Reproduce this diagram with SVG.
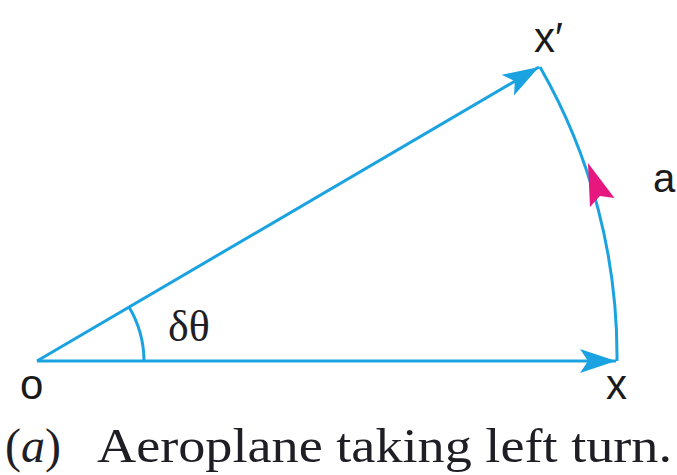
<svg xmlns="http://www.w3.org/2000/svg" width="677" height="475" viewBox="0 0 677 475">
<style>
.ln{fill:none;stroke:#1aa3e0;stroke-width:3}
.lbl{font-family:"Liberation Sans","DejaVu Sans",sans-serif;fill:#1a1a1a}
.ser{font-family:"Liberation Serif","DejaVu Serif",serif;fill:#1e1e24}
</style>
<defs>
<marker id="ah" markerUnits="userSpaceOnUse" markerWidth="40" markerHeight="30" refX="36" refY="12" orient="auto">
<path d="M0,0 L36,12 L0,24 L8,12 Z" fill="#1aa3e0"/>
</marker>
</defs>
<g id="connectors">
<line class="ln" x1="37" y1="361" x2="539" y2="67" marker-end="url(#ah)"/>
<line class="ln" x1="37" y1="361" x2="616" y2="361" marker-end="url(#ah)"/>
<path class="ln" d="M617,361 A581,581 0 0 0 540,67"/>
<path class="ln" d="M144,361 A107,107 0 0 0 129,307"/>
<path d="M0,0 L-42,-13 L-35,0 L-42,13 Z" fill="#e6177f" transform="translate(588,163) rotate(-109.8)"/>
</g>
<g id="node-o"><text class="lbl" x="20" y="399" font-size="42">o</text></g>
<g id="node-x"><text class="lbl" x="606" y="399" font-size="42">x</text></g>
<g id="node-xp"><text class="lbl" x="534" y="52" font-size="42">x′</text></g>
<g id="label-a"><text class="lbl" x="653" y="192" font-size="40">a</text></g>
<g id="label-dtheta"><text class="ser" x="168" y="341" font-size="44">δθ</text></g>
<g id="caption">
<text class="ser" x="5" y="462" font-size="48">(<tspan font-style="italic">a</tspan>)</text>
<text class="ser" x="97" y="462" font-size="48" textLength="575" lengthAdjust="spacingAndGlyphs">Aeroplane taking left turn.</text>
</g>
</svg>
